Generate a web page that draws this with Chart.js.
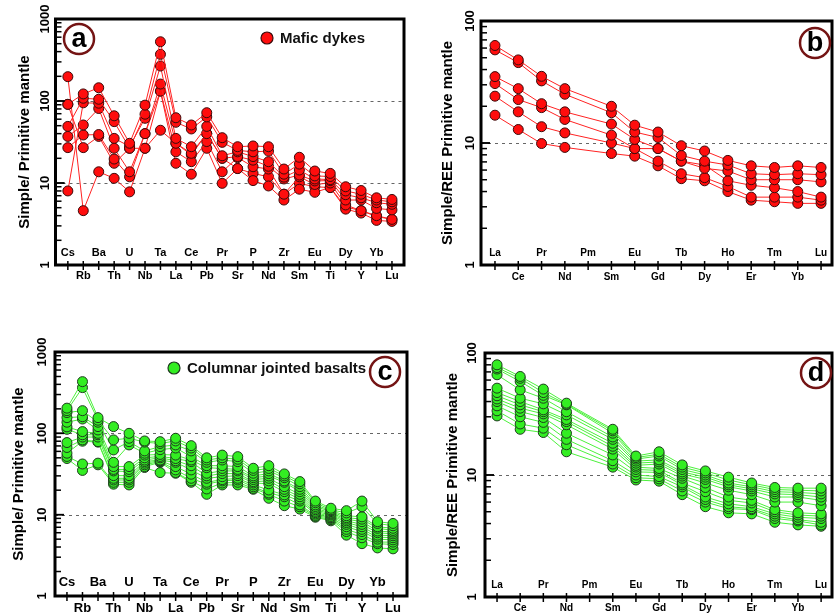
<!DOCTYPE html>
<html><head><meta charset="utf-8">
<script src="https://cdn.jsdelivr.net/npm/chart.js@4.4.0/dist/chart.umd.min.js"></script>
<style>
html,body{margin:0;padding:0;background:#fff;}
body{width:838px;height:615px;position:relative;overflow:hidden;}
canvas{position:absolute;left:0;top:0;}
</style></head>
<body>
<canvas id="pa" width="838" height="615"></canvas>
<canvas id="pb" width="838" height="615"></canvas>
<canvas id="pc" width="838" height="615"></canvas>
<canvas id="pd" width="838" height="615"></canvas>
<script>
// ---- categories & ticks ----
const traceElements = ['Cs','Rb','Ba','Th','U','Nb','Ta','La','Ce','Pb','Pr','Sr','P','Nd','Zr','Sm','Eu','Ti','Dy','Y','Yb','Lu'];
const reeElements = ['La','Ce','Pr','Nd','Pm','Sm','Eu','Gd','Tb','Dy','Ho','Er','Tm','Yb','Lu'];
const traceTicks = [1, 10, 100, 1000];
const reeTicks = [1, 10, 100];

// ---- (a) Mafic dykes, trace elements ----
const maficTrace = [
  [91, 122, 145, 66, 30.5, 89, 528, 62.5, 51, 72, 35.7, 27.7, 28.3, 27.7, 14.8, 20.6, 14, 13.1, 9, 8.1, 6.6, 6.3],
  [49, 108, 105, 56, 26.5, 69, 371, 55, 45.6, 64, 31.3, 25, 24, 24.5, 12.8, 17, 12.2, 12, 8, 7.3, 6.2, 5.9],
  [8, 95, 94, 35, 28, 61.5, 267, 35, 27.7, 49, 21.5, 24, 21, 18.2, 11.8, 14.4, 11.2, 11, 7.2, 6.6, 5.75, 5.5],
  [37, 51, 81, 26.5, 13.7, 40, 161, 30.5, 23, 40, 20, 21, 19, 16, 11.2, 12.5, 10.6, 10.7, 6.2, 6.2, 4.9, 4.7],
  [27, 38.5, 39, 19.6, 11.9, 40, 132, 24, 18.2, 32, 13.7, 20.4, 15.8, 14.8, 7.3, 11.9, 9.6, 10, 5.4, 4.6, 4, 3.6],
  [91, 27, 37, 17.4, 26.5, 26.5, 132, 17.4, 12.8, 26.5, 9.9, 15, 10.7, 9.2, 6.2, 8.4, 7.7, 8.8, 4.8, 4.3, 3.5, 3.4],
  [198, 4.6, 13.7, 11.4, 7.8, 26.5, 44, 30.5, 22, 40, 20, 15, 13.1, 11.9, 7.3, 9.9, 9, 8.8, 5.1, 4.6, 3.9, 3.6]
];
// ---- (b) Mafic dykes, REE ----
const maficRee = [
  [63, 48, 35.2, 27.9, null, 20, 14, 12.3, 9.5, 8.6, 7.2, 6.5, 6.3, 6.5, 6.3],
  [58, 45.6, 32.3, 25.1, null, 17.7, 12.3, 11.1, 7.9, 7.1, 6.6, 5.6, 5.5, 5.6, 5.5],
  [35, 27.9, 21, 18, null, 14.3, 10.7, 9, 7.1, 6.2, 5.9, 5, 5, 5, 4.8],
  [30.7, 22.7, 19.5, 15.6, null, 11.6, 9, 9, 7.1, 6.6, 4.9, 4.5, 4.3, 4, 3.6],
  [24.2, 18, 13.6, 12.1, null, 10, 9, 7.1, 5.6, 5.2, 4.4, 3.6, 3.6, 3.6, 3.4],
  [16.9, 12.9, 9.9, 9.2, null, 8.2, 7.8, 6.5, 5.1, 4.9, 4.0, 3.4, 3.3, 3.2, 3.2]
];
// ---- (c) Columnar jointed basalts, trace elements ----
const basaltTrace = [
  [204, 432, 156, 121, 100, 80.6, 79, 87, 70.6, 50, 54, 51.7, 37.2, 40, 31.7, 25.5, 14.7, 12, 11.2, 14.7, 8.2, 7.8],
  [190, 365, 145, 83, 87, 78, 75, 80.6, 66, 47, 50, 48, 35, 37, 30, 24, 14, 11.5, 10.5, 12.5, 7.8, 7.3],
  [180, 190, 137, 62.5, 79, 60.8, 68.6, 72, 60.8, 44, 47, 44.9, 32.3, 34.5, 28.5, 22.1, 13.2, 11.2, 9.7, 9.4, 7.1, 6.8],
  [156, 160, 121, 44, 72, 57, 63, 66, 51.7, 40, 40, 39, 30, 32, 26, 20.5, 12.6, 10.9, 9.2, 8.8, 6.8, 6.4],
  [137, 150, 110, 39, 39, 54, 55, 54, 47, 37.8, 37, 36, 28.5, 29.9, 25, 19.2, 12, 10.5, 8.8, 8.2, 6.3, 6.1],
  [120, 105, 100, 36, 36, 50, 52, 49, 44.9, 32.3, 34.5, 34.5, 27, 28, 22.1, 17.8, 11.5, 10.2, 8.4, 7.6, 6, 5.8],
  [112, 96, 96, 34.5, 33.8, 47, 50, 46, 40, 30, 32, 32, 25.5, 26, 20.5, 16.6, 11, 9.9, 8, 7.1, 5.6, 5.5],
  [77, 90, 90, 30.2, 30.2, 45, 47, 44, 35.5, 28, 29.3, 30.2, 24.5, 24, 19.2, 15.5, 10.6, 9.5, 7.6, 6.6, 5.3, 5.2],
  [67, 83, 79, 28, 28, 43, 46, 39, 31.4, 25, 27, 28, 23.2, 20.1, 17.5, 14.7, 10.2, 9.2, 7.1, 6.2, 5, 4.9],
  [57, 80, 78, 26.7, 26.7, 41, 45, 35.5, 28, 23.7, 26, 26.7, 22, 18.5, 16.6, 13.2, 9.8, 9, 6.6, 5.7, 4.6, 4.6],
  [52, 42, 43, 25, 25, 39, 44, 33, 26, 20.7, 24.5, 25, 21, 17.8, 14.7, 12.5, 9.5, 8.7, 6.2, 5.2, 4.4, 4.3],
  [49, 35, 41, 23.7, 23.2, 38, 32.9, 32.3, 25, 17.8, 23.2, 23.2, 20.5, 15.9, 12.9, 11.7, 9.3, 8.4, 5.6, 4.4, 3.9, 3.8]
];
// ---- (d) Columnar jointed basalts, REE ----
const basaltRee = [
  [80, 64.2, 50.6, 38.8, null, 23.7, 14.3, 15.5, 12.1, 10.8, 9.6, 8.6, 7.9, 7.8, 7.8],
  [76, 62, 47.4, 38, null, 23, 13.9, 14.8, 11.6, 10.4, 9.1, 8.3, 7.6, 7.5, 7.4],
  [73.9, 58.4, 45, 37.6, null, 22, 13.5, 14.3, 11.1, 10, 8.6, 8, 7.3, 7.2, 7],
  [66.3, 49.9, 42.6, 33, null, 20.5, 13, 13.3, 10.6, 9.6, 8.3, 7.7, 7, 6.9, 6.6],
  [51.5, 42.6, 38.3, 31.1, null, 19.6, 12.5, 12.8, 10.2, 9.2, 8, 7.4, 6.6, 6.6, 6.2],
  [47.4, 40, 34.2, 28.5, null, 18.2, 12, 12.3, 9.8, 8.6, 7.5, 6.9, 6, 6, 5.6],
  [44.6, 37.6, 33, 27.4, null, 17.2, 11.6, 11.3, 9.4, 7.9, 6.6, 6.2, 5.2, 4.9, 4.8],
  [42, 35.3, 31.7, 25.8, null, 16.3, 11.1, 10.9, 8.6, 7.3, 6.2, 5.9, 5, 4.7, 4.6],
  [40, 33.1, 29.6, 22, null, 14.6, 10.6, 10.5, 8.3, 6.6, 5.8, 5.5, 4.8, 4.5, 4.4],
  [36.9, 30, 27, 19.6, null, 13.1, 10, 9.7, 8, 6.3, 5.5, 5.3, 4.6, 4.3, 4.1],
  [33.6, 26.2, 24.2, 17.7, null, 12.3, 9.5, 9.3, 7.4, 6, 5.3, 5.2, 4.4, 4.2, 3.9],
  [30.5, 23.7, 22.3, 15.5, null, 11.6, 9.1, 8.9, 6.9, 5.5, 4.9, 4.8, 4.1, 3.9, 3.8]
];

const FONT = '"Liberation Sans", Arial, sans-serif';

const decor = {
  id: 'decor',
  beforeDatasetsDraw(chart, args, o) {
    const {ctx, chartArea: a, scales: {y}} = chart;
    ctx.save();
    ctx.strokeStyle = '#666'; ctx.lineWidth = 1; ctx.setLineDash([3, 4]);
    o.grid.forEach(v => {
      const py = Math.round(y.getPixelForValue(v)) + 0.5;
      ctx.beginPath(); ctx.moveTo(a.left, py); ctx.lineTo(a.right, py); ctx.stroke();
    });
    ctx.restore();
  },
  afterDatasetsDraw(chart, args, o) {
    const {ctx, chartArea: a, scales: {x, y}} = chart;
    const line = (x1, y1, x2, y2) => { ctx.beginPath(); ctx.moveTo(x1, y1); ctx.lineTo(x2, y2); ctx.stroke(); };
    ctx.save();
    ctx.strokeStyle = '#000'; ctx.fillStyle = '#000';
    // frame
    ctx.lineWidth = 3;
    ctx.strokeRect(a.left, a.top, a.right - a.left, a.bottom - a.top);
    // y ticks (log, major+minor)
    ctx.lineWidth = 1.5;
    const ymax = o.ticks[o.ticks.length - 1];
    for (let d = 1; d < ymax; d *= 10) {
      for (let m = 1; m <= 10; m++) {
        const py = y.getPixelForValue(d * m);
        line(a.left - 1, py, a.left + (m === 1 || m === 10 ? 9 : 6), py);
      }
    }
    // x ticks
    o.labels.forEach((lab, i) => {
      const px = x.getPixelForValue(i);
      line(px, a.bottom - 4, px, a.bottom + 5);
    });
    // x labels, alternating inside / below
    ctx.font = o.xFont; ctx.textAlign = 'center'; ctx.textBaseline = 'middle';
    o.labels.forEach((lab, i) => {
      ctx.fillText(lab, x.getPixelForValue(i), i % 2 === 0 ? o.upperY : o.lowerY);
    });
    // y tick labels, rotated
    ctx.font = o.yFont;
    o.ticks.forEach(v => {
      ctx.save();
      ctx.translate(o.yLabX, y.getPixelForValue(v));
      ctx.rotate(-Math.PI / 2);
      ctx.fillText(String(v), 0, 0);
      ctx.restore();
    });
    // y title
    ctx.save();
    ctx.font = 'bold 15px ' + FONT;
    ctx.translate(o.titleX, (a.top + a.bottom) / 2);
    ctx.rotate(-Math.PI / 2);
    ctx.fillText(o.title, 0, 0);
    ctx.restore();
    // legend
    if (o.legend) {
      const L = o.legend;
      ctx.beginPath(); ctx.arc(L.x, L.y, 6, 0, Math.PI * 2);
      ctx.fillStyle = L.fill; ctx.fill();
      ctx.lineWidth = 1.2; ctx.strokeStyle = L.edge; ctx.stroke();
      ctx.fillStyle = '#111'; ctx.font = 'bold 15px ' + FONT;
      ctx.textAlign = 'left';
      ctx.fillText(L.text, L.x + 13, L.y + 1);
    }
    // badge
    const B = o.badge;
    ctx.beginPath(); ctx.arc(B.x, B.y, 15, 0, Math.PI * 2);
    ctx.fillStyle = '#fff'; ctx.fill();
    ctx.lineWidth = 2.5; ctx.strokeStyle = '#741414'; ctx.stroke();
    ctx.fillStyle = '#000'; ctx.font = 'bold 27px ' + FONT;
    ctx.textAlign = 'center'; ctx.textBaseline = 'middle';
    ctx.fillText(B.letter, B.x, B.y + 1);
    ctx.restore();
  }
};

function makeChart(id, rows, labels, area, xr, ticks, grid, colors, deco) {
  const datasets = rows.map(r => ({
    data: r.map((v, i) => ({x: i, y: v})),
    borderColor: colors.line, borderWidth: 1,
    pointBackgroundColor: colors.fill, pointBorderColor: colors.edge,
    pointBorderWidth: 1, pointRadius: 5, pointHoverRadius: 5,
    spanGaps: true, tension: 0, fill: false
  }));
  return new Chart(document.getElementById(id), {
    type: 'line',
    data: {datasets},
    options: {
      responsive: false, animation: false, devicePixelRatio: 1,
      layout: {padding: {left: area.l, top: area.t, right: 838 - area.r, bottom: 615 - area.b}},
      scales: {
        x: {type: 'linear', min: xr[0], max: xr[1], display: false},
        y: {type: 'logarithmic', min: ticks[0], max: ticks[ticks.length - 1], display: false}
      },
      plugins: {
        legend: {display: false}, tooltip: {enabled: false},
        decor: Object.assign({labels, ticks, grid}, deco)
      },
      events: []
    },
    plugins: [decor]
  });
}

const red = {line: '#ff2222', fill: '#ff0d0d', edge: '#3a0a0a'};
const green = {line: '#4cf03c', fill: '#33ee22', edge: '#1d3a1d'};

makeChart('pa', maficTrace, traceElements, {l: 55.5, t: 19, r: 404, b: 265}, [-0.8, 21.78], traceTicks, [10, 100], red, {
  xFont: 'bold 11px ' + FONT, yFont: 'bold 13px ' + FONT, upperY: 253, lowerY: 276, yLabX: 45, titleX: 25,
  title: 'Simple/ Primitive mantle',
  legend: {x: 267, y: 38, text: 'Mafic dykes', fill: '#ff0d0d', edge: '#3a0a0a'},
  badge: {x: 79, y: 39, letter: 'a'}
});
makeChart('pb', maficRee, reeElements, {l: 481, t: 21, r: 833, b: 265}, [-0.6, 14.47], reeTicks, [10], red, {
  xFont: 'bold 10px ' + FONT, yFont: 'bold 13px ' + FONT, upperY: 253, lowerY: 277, yLabX: 470, titleX: 448,
  title: 'Simple/REE Primitive mantle',
  badge: {x: 815, y: 43, letter: 'b'}
});
makeChart('pc', basaltTrace, traceElements, {l: 55, t: 352, r: 407, b: 596}, [-0.77, 21.9], traceTicks, [10, 100], green, {
  xFont: 'bold 13px ' + FONT, yFont: 'bold 13px ' + FONT, upperY: 582, lowerY: 608, yLabX: 42, titleX: 19,
  title: 'Simple/ Primitive mantle',
  legend: {x: 174, y: 368, text: 'Columnar jointed basalts', fill: '#33ee22', edge: '#1d3a1d'},
  badge: {x: 385, y: 372, letter: 'c'}
});
makeChart('pd', basaltRee, reeElements, {l: 485, t: 353, r: 833, b: 597}, [-0.52, 14.47], reeTicks, [10], green, {
  xFont: 'bold 10px ' + FONT, yFont: 'bold 13px ' + FONT, upperY: 585, lowerY: 608, yLabX: 472, titleX: 453,
  title: 'Simple/REE Primitive mantle',
  badge: {x: 816, y: 373, letter: 'd'}
});
</script>
</body></html>
